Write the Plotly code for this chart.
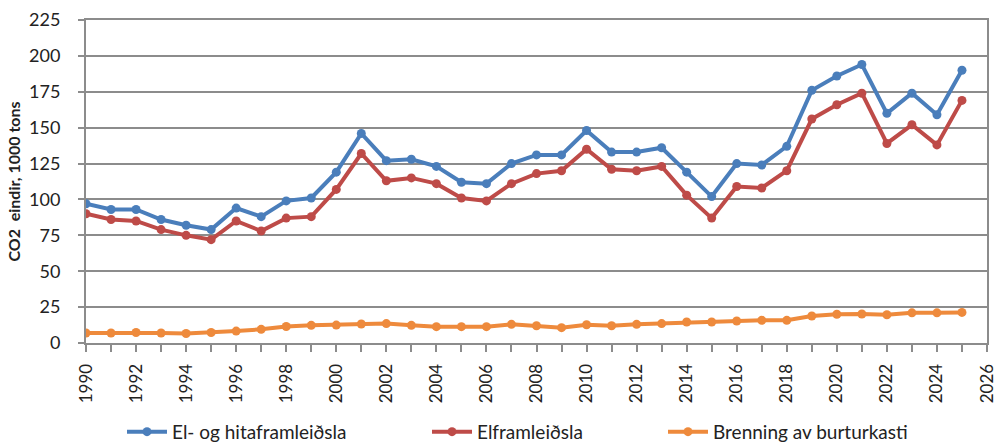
import plotly.graph_objects as go

years = list(range(1990, 2026))
el_og_hiti = [97, 93, 93, 86, 82, 79, 94, 88, 99, 101, 119, 146, 127, 128, 123, 112, 111, 125, 131, 131,
              148, 133, 133, 136, 119, 102, 125, 124, 137, 176, 186, 194, 160, 174, 159, 190]
elframleidsla = [90, 86, 85, 79, 75, 72, 85, 78, 87, 88, 107, 132, 113, 115, 111, 101, 99, 111, 118, 120,
                 135, 121, 120, 123, 103, 87, 109, 108, 120, 156, 166, 174, 139, 152, 138, 169]
brenning = [7, 7, 7.3, 7, 6.6, 7.3, 8.3, 9.5, 11.5, 12.3, 12.5, 13.2, 13.5, 12.3, 11.4, 11.4, 11.4, 13, 12, 10.7,
            12.7, 12, 13, 13.5, 14.6, 14.6, 15.3, 15.8, 15.8, 18.8, 20, 20.2, 19.7, 21, 21, 21.3]

names = ["El- og hitaframleiðsla", "Elframleiðsla", "Brenning av burturkasti"]
colors = ["#4A7EBB", "#BE4B48", "#EE8A3C"]
series = [el_og_hiti, elframleidsla, brenning]
legends = ["legend", "legend2", "legend3"]

fig = go.Figure()
for n, c, s, lg in zip(names, colors, series, legends):
    fig.add_trace(go.Scatter(x=years, y=s, name=n, mode="lines+markers",
                             line=dict(color=c, width=4),
                             marker=dict(color=c, size=9),
                             legend=lg))

font_family = "Lato, 'Open Sans', sans-serif"
grid = "#8C8C8C"
L, R = 86, 10
PW = 997 - L - R
fig.update_layout(
    width=997, height=442,
    margin=dict(l=L, r=R, t=20, b=99, autoexpand=False),
    paper_bgcolor="white", plot_bgcolor="white",
    font=dict(family=font_family, size=18, color="#222222"),
    showlegend=True,
)
leg_common = dict(orientation="h", yanchor="middle", xanchor="left", y=-0.275,
                  font=dict(size=19, family=font_family, color="#222222"),
                  bgcolor="rgba(0,0,0,0)", itemwidth=40)
fig.update_layout(
    legend=dict(x=(122 - L) / PW, **leg_common),
    legend2=dict(x=(427 - L) / PW, **leg_common),
    legend3=dict(x=(663 - L) / PW, **leg_common),
)
fig.update_xaxes(range=[1990, 2026], dtick=2, tick0=1990, tickangle=-90, automargin=False,
                 showgrid=False, showline=True, linecolor=grid, linewidth=2, mirror=True,
                 ticks="outside", ticklen=7, tickcolor=grid, tickwidth=2, ticklabelstandoff=5,
                 ticklabeloverflow="allow",
                 minor=dict(dtick=1, ticks="outside", ticklen=7, tickcolor=grid, tickwidth=2),
                 tickfont=dict(size=17), zeroline=False)
fig.update_yaxes(range=[0, 225], dtick=25, showgrid=True, gridcolor=grid, gridwidth=1.5,
                 showline=True, linecolor=grid, linewidth=2, mirror=True, automargin=False,
                 ticks="outside", ticklen=6, tickcolor=grid, tickwidth=2, ticklabelstandoff=14,
                 tickfont=dict(size=18), zeroline=False,
                 title=dict(text="<b>CO2  eindir, 1000 tons</b>", font=dict(size=16), standoff=4))

fig.write_html("out.html", config={"displayModeBar": False},
               post_script="document.body.style.margin='0';document.body.style.overflow='hidden';")
